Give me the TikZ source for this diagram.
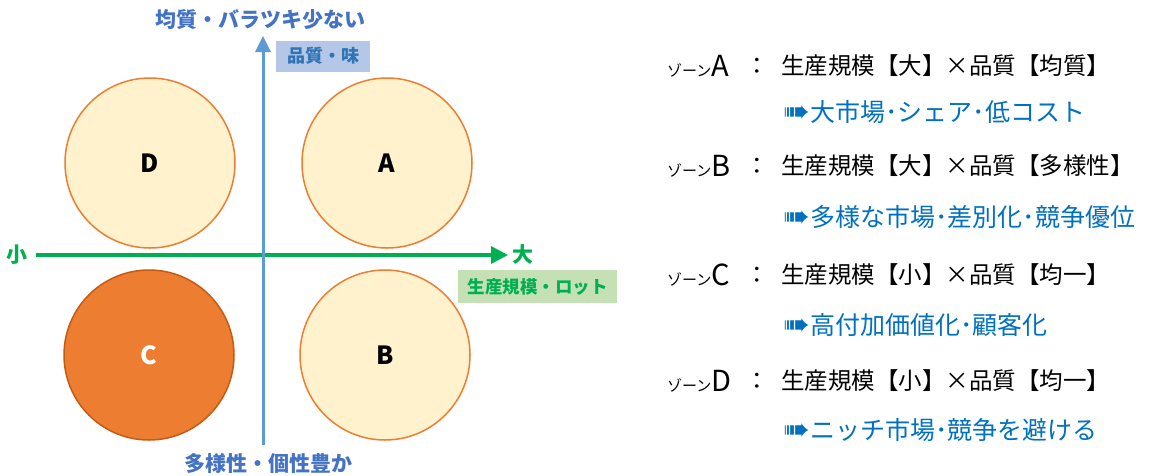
\documentclass[tikz,border=0pt]{standalone}
\usepackage{fontspec}
\setmainfont{Noto Sans CJK JP}
\newfontfamily\dejavu{DejaVu Sans}
\usetikzlibrary{arrows.meta}
\definecolor{axblue}{HTML}{5B9BD5}
\definecolor{lblblue}{HTML}{4472C4}
\definecolor{boxblue}{HTML}{B4C7E7}
\definecolor{txtblue}{HTML}{2E75B6}
\definecolor{axgreen}{HTML}{00B050}
\definecolor{boxgreen}{HTML}{C5E0B4}
\definecolor{cfill}{HTML}{FFF2CC}
\definecolor{cline}{HTML}{ED7D31}
\definecolor{cdark}{HTML}{C55A11}
\definecolor{linkblue}{HTML}{0070C0}
\tikzset{
  zone/.style={circle, draw=cline, line width=1.5pt, fill=cfill, minimum size=170pt, inner sep=0pt, font=\fontsize{25}{28}\selectfont\bfseries},
  zonedark/.style={zone, fill=cline, draw=cdark, text=white},
  axlabel/.style={font=\fontsize{21}{24}\selectfont\bfseries, text=lblblue, inner sep=0pt},
  hdr/.style={anchor=west, inner sep=0pt, font=\fontsize{23.5}{26}\selectfont},
  sub/.style={anchor=west, inner sep=0pt, text=linkblue, font=\fontsize{25}{28}\selectfont},
}
\newcommand{\zn}[1]{{\fontsize{15}{18}\selectfont ゾーン}{\fontsize{29}{30}\selectfont #1}}
\newcommand{\arr}{{\dejavu\fontsize{32}{28}\selectfont\raisebox{-1pt}{➠}}}
\begin{document}
\begin{tikzpicture}[x=1pt,y=-1pt]
\useasboundingbox (0,0) rectangle (1159,475);
% circles
\node[zone] (D) at (150,163) {D};
\node[zone] (A) at (387,163) {A};
\node[zonedark] (C) at (149,355) {C};
\node[zone] (B) at (385,355) {B};
% axes
\coordinate (vb) at (263,445);
\coordinate (vt) at (263,36);
\coordinate (hl) at (36,255);
\coordinate (hr) at (508,255);
\draw[axgreen, line width=3.5pt, -{Triangle[length=17pt,width=17pt]}] (hl) -- (hr);
\draw[axblue, line width=3pt, -{Triangle[length=16pt,width=15pt]}] (vb) -- (vt);
% axis labels
\node[axlabel] (top) at (260,20) {均質・バラツキ少ない};
\node[axlabel] (bot) at (268,463) {多様性・個性豊か};
\node[font=\fontsize{21}{24}\selectfont\bfseries, text=axgreen, inner sep=0pt] (small) at (17,255) {小};
\node[font=\fontsize{21}{24}\selectfont\bfseries, text=axgreen, inner sep=0pt] (large) at (523,254) {大};
\node[fill=boxblue, text=txtblue, font=\fontsize{18}{20}\selectfont\bfseries, minimum width=94pt, minimum height=31pt, inner sep=0pt] (qbox) at (323,56) {品質・味};
\node[fill=boxgreen, text=axgreen, font=\fontsize{17.5}{20}\selectfont\bfseries, minimum width=159pt, minimum height=33pt, inner sep=0pt] (sbox) at (537.5,286.5) {生産規模・ロット};
% right text
\node[hdr] (zA) at (667,66) {\zn{A}};
\node[hdr] (cA) at (745,66) {：};
\node[hdr] (tA) at (781,66) {生産規模【大】×品質【均質】};
\node[sub] (sA) at (783,112) {\arr 大市場･シェア･低コスト};
\node[hdr] (zB) at (667,166) {\zn{B}};
\node[hdr] (cB) at (745,166) {：};
\node[hdr] (tB) at (781,166) {生産規模【大】×品質【多様性】};
\node[sub] (sB) at (783,217) {\arr 多様な市場･差別化･競争優位};
\node[hdr] (zC) at (667,275) {\zn{C}};
\node[hdr] (cC) at (745,275) {：};
\node[hdr] (tC) at (781,275) {生産規模【小】×品質【均一】};
\node[sub] (sC) at (783,325) {\arr 高付加価値化･顧客化};
\node[hdr] (zD) at (667,381) {\zn{D}};
\node[hdr] (cD) at (745,381) {：};
\node[hdr] (tD) at (781,381) {生産規模【小】×品質【均一】};
\node[sub] (sD) at (783,430) {\arr ニッチ市場･競争を避ける};
\end{tikzpicture}
\end{document}
